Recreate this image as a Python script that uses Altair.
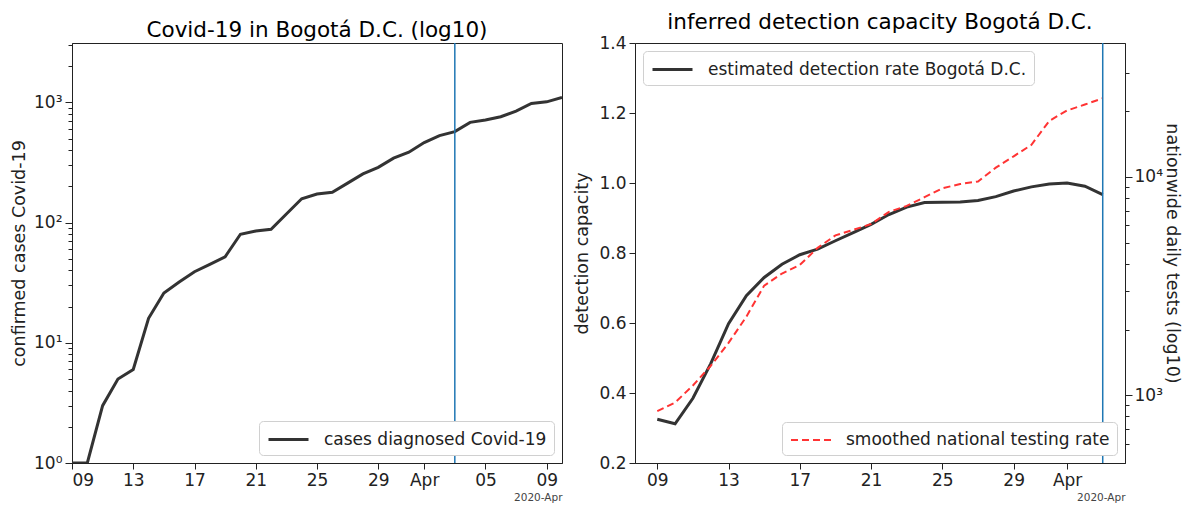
import altair as alt
import pandas as pd

# ---------------- data ----------------
left_dates = pd.date_range("2020-03-09", "2020-04-10").strftime("%Y-%m-%dT00:00:00").tolist()
cases = [1, 1, 3, 5, 6, 16, 26, 32, 39, 45, 52, 80, 85, 88, 118, 158, 173, 179, 213, 254,
         288, 344, 385, 463, 529, 571, 682, 714, 760, 847, 979, 1011, 1098]

right_dates = pd.date_range("2020-03-09", "2020-04-03").strftime("%Y-%m-%dT00:00:00").tolist()
detection = [0.325, 0.312, 0.385, 0.484, 0.598, 0.678, 0.730, 0.768, 0.795, 0.811, 0.835,
             0.858, 0.882, 0.910, 0.931, 0.944, 0.945, 0.946, 0.950, 0.961, 0.977, 0.989,
             0.997, 1.000, 0.991, 0.967]
tests = [847, 927, 1109, 1365, 1738, 2291, 3179, 3611, 3951, 4732, 5396, 5719, 6085, 6918,
         7362, 8077, 8866, 9271, 9530, 11020, 12420, 14020, 18040, 20140, 21430, 22900]

cutoff = ["2020-04-03T00:00:00"]

series_cases = "cases diagnosed Covid-19"
series_det = "estimated detection rate Bogotá D.C."
series_tests = "smoothed national testing rate"

left_minor = [1, 2, 3, 4, 5, 6, 7, 8, 9, 10, 20, 30, 40, 50, 60, 70, 80, 90,
              100, 200, 300, 400, 500, 600, 700, 800, 900, 1000, 2000, 3000]
right_minor = [600, 700, 800, 900, 1000, 2000, 3000, 4000, 5000, 6000, 7000, 8000, 9000,
               10000, 20000, 30000]

FONT = "DejaVu Sans"
INK = "#222222"
LABEL_FS = 17
TITLE_FS = 17.5

df_cases = pd.DataFrame({"date": left_dates, "value": cases, "series": series_cases})
df_det = pd.DataFrame({"date": right_dates, "value": detection, "series": series_det})
df_tests = pd.DataFrame({"date": right_dates, "value": tests, "series": series_tests})
df_cut = pd.DataFrame({"date": cutoff})

def D(m, d, h=0):
    return alt.DateTime(year=2020, month=m, date=d, hours=h)

label_expr_date = ("timeFormat(datum.value, '%d') == '01' ? timeFormat(datum.value, '%b') "
                   ": timeFormat(datum.value, '%d')")
pow_label = ("indexof([1,10,100,1000,10000], datum.value) >= 0 ? "
             "'10' + ['⁰','¹','²','³','⁴'][round(log(datum.value)/LN10)] : ''")
major_test = "indexof([1,10,100,1000,10000], datum.value) >= 0"

PW, PH = 490, 420

def date_axis(values):
    return alt.Axis(values=values, labelExpr=label_expr_date, title="2020-Apr",
                    titleFontSize=10.5, titleFontWeight="normal", titleColor="#444",
                    titleX=PW, titleY=34, titleAlign="right", titleBaseline="middle",
                    labelFontSize=LABEL_FS, tickSize=6, labelPadding=3, grid=False)

def legend(orient, dash=None, sw=3):
    kw = dict(title=None, orient=orient, offset=8, symbolType="M-2,0H2", symbolSize=400,
              symbolOffset=11, labelOffset=24,
              symbolStrokeWidth=sw, labelFontSize=LABEL_FS, labelLimit=500,
              strokeColor="#d0d0d0", fillColor="white", cornerRadius=4, padding=7)
    if dash:
        kw["symbolDash"] = dash
    return alt.Legend(**kw)

def log_axis(title, orient, tpad, lpad):
    return alt.Axis(values=left_minor if orient == "left" else right_minor,
                    labelExpr=pow_label, orient=orient,
                    tickSize={"condition": {"test": major_test, "value": 7}, "value": 4},
                    title=title, titleFontSize=TITLE_FS, titleFontWeight="normal",
                    titlePadding=tpad, labelFontSize=LABEL_FS, labelPadding=lpad, grid=False)

def panel_title(text):
    return alt.TitleParams(text, fontSize=21.5, fontWeight="normal", anchor="middle",
                           color="black", offset=1, frame="group")

# ---------------- left panel ----------------
left_ticks = [D(3, 9), D(3, 13), D(3, 17), D(3, 21), D(3, 25), D(3, 29), D(4, 1), D(4, 5), D(4, 9)]
x_left = alt.X("date:T", scale=alt.Scale(domain=[D(3, 9), D(4, 10)]),
               axis=date_axis(left_ticks))

left_line = alt.Chart(df_cases).mark_line(strokeWidth=3, clip=True).encode(
    x=x_left,
    y=alt.Y("value:Q", scale=alt.Scale(type="log", domain=[1, 3120], nice=False),
            axis=log_axis("confirmed cases Covid-19", "left", 5, 3)),
    color=alt.Color("series:N", scale=alt.Scale(range=["#333333"]),
                    legend=legend("bottom-right")),
)
left_rule = alt.Chart(df_cut).mark_rule(color="#1f77b4", strokeWidth=1.5).encode(x="date:T")

left = alt.layer(left_line, left_rule).properties(
    width=PW, height=PH, title=panel_title("Covid-19 in Bogotá D.C. (log10)"))

# ---------------- right panel ----------------
right_ticks = [D(3, 9), D(3, 13), D(3, 17), D(3, 21), D(3, 25), D(3, 29), D(4, 1)]
x_right = alt.X("date:T", scale=alt.Scale(domain=[D(3, 7, 18), D(4, 4, 6)]),
                axis=date_axis(right_ticks))

det_line = alt.Chart(df_det).mark_line(strokeWidth=3).encode(
    x=x_right,
    y=alt.Y("value:Q", scale=alt.Scale(domain=[0.2, 1.4], nice=False),
            axis=alt.Axis(values=[0.2, 0.4, 0.6, 0.8, 1.0, 1.2, 1.4], format=".1f",
                          title="detection capacity", titleFontSize=TITLE_FS,
                          titleFontWeight="normal", titlePadding=7,
                          labelFontSize=LABEL_FS, labelPadding=3, tickSize=6, grid=False)),
    color=alt.Color("series:N", scale=alt.Scale(range=["#333333"]),
                    legend=legend("top-left")),
)
test_line = alt.Chart(df_tests).mark_line(strokeWidth=2, strokeDash=[7, 4]).encode(
    x=x_right,
    y=alt.Y("value:Q", scale=alt.Scale(type="log", domain=[490, 41000], nice=False),
            axis=log_axis("nationwide daily tests (log10)", "right", 0, 2)),
    color=alt.Color("series:N", scale=alt.Scale(range=["#ff3333"]),
                    legend=legend("bottom-right", dash=[7, 4], sw=2)),
)
right_rule = alt.Chart(df_cut).mark_rule(color="#1f77b4", strokeWidth=1.5).encode(x="date:T")

right = alt.layer(det_line, test_line, right_rule).resolve_scale(
    y="independent", color="independent").properties(
    width=PW, height=PH, title=panel_title("inferred detection capacity Bogotá D.C."))

chart = alt.hconcat(left, right, spacing=10).resolve_scale(
    color="independent", x="independent"
).resolve_legend(color="independent").properties(
    padding={"left": 2, "top": 3, "right": 3, "bottom": 0}
).configure(
    font=FONT
).configure_axis(
    domainColor=INK, tickColor=INK, labelColor=INK, titleColor=INK,
    labelFont=FONT, titleFont=FONT
).configure_view(
    stroke=INK, strokeWidth=1
).configure_legend(
    labelFont=FONT, labelColor=INK
).configure_title(font=FONT)

chart.save("out.html", embed_options={"renderer": "svg", "actions": False})
